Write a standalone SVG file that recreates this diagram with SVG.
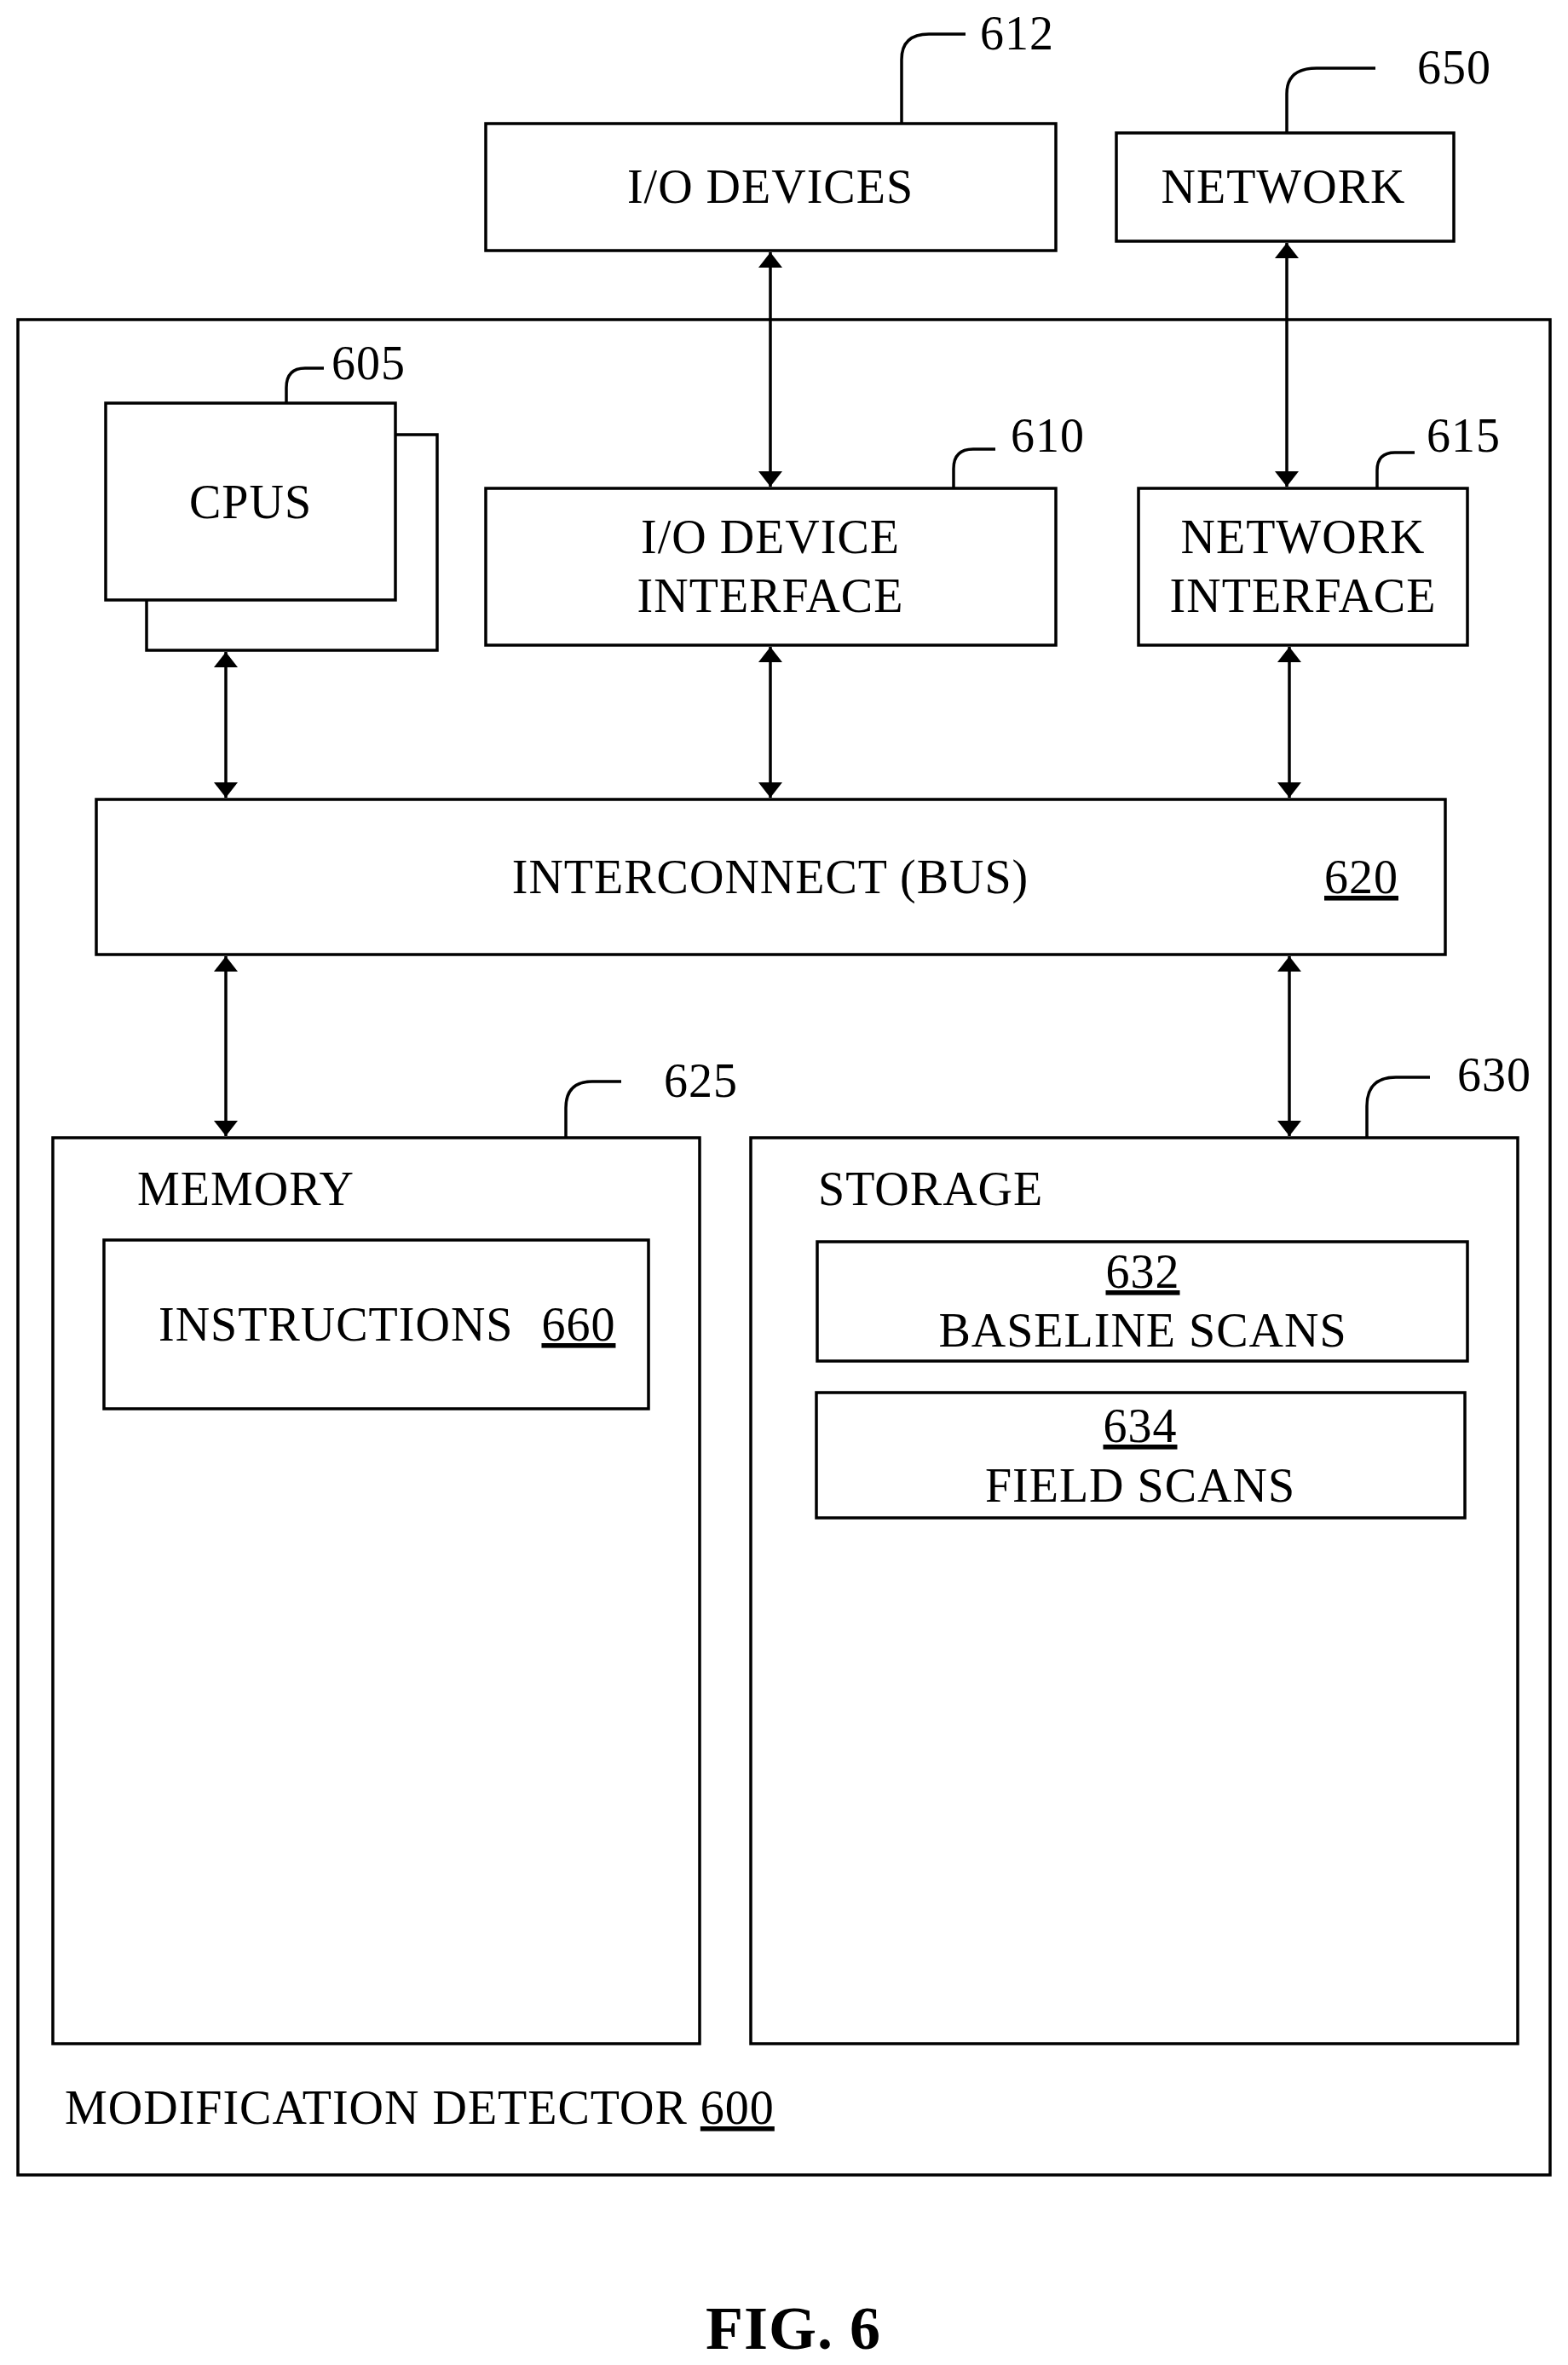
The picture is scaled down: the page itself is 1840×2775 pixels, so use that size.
<svg xmlns="http://www.w3.org/2000/svg" width="1840" height="2775" viewBox="0 0 1840 2775">
<defs>
<marker id="ah" viewBox="0 0 10 10" refX="10" refY="5" markerWidth="18" markerHeight="28" markerUnits="userSpaceOnUse" orient="auto-start-reverse" preserveAspectRatio="none"><path d="M0,0 L10,5 L0,10 z" fill="#000"/></marker>
<style>
rect{fill:#fff;stroke:#000;stroke-width:3.5}
text{font-family:"Liberation Serif",serif;font-size:56px;fill:#000;letter-spacing:1px}
.c{text-anchor:middle}
.u{text-decoration:underline}
.ld{fill:none;stroke:#000;stroke-width:3.5}
.ar{stroke:#000;stroke-width:3.5;marker-start:url(#ah);marker-end:url(#ah)}
</style>
</defs>
<rect width="1840" height="2775" style="fill:#fff;stroke:none"/>
<g id="outer"><rect x="21" y="375" width="1798" height="2177"/><text x="76" y="2492">MODIFICATION DETECTOR <tspan class="u">600</tspan></text></g>
<g id="io-devices"><rect x="570" y="145" width="669" height="149"/><text class="c" x="904" y="238">I/O DEVICES</text><text x="1150" y="58">612</text></g>
<g id="network"><rect x="1310" y="156" width="396" height="127"/><text class="c" x="1506" y="238">NETWORK</text><text x="1663" y="98">650</text></g>
<g id="cpus"><rect x="172" y="510" width="341" height="253"/><rect x="124" y="473" width="340" height="231"/><text class="c" x="294" y="608">CPUS</text><text x="389" y="445">605</text></g>
<g id="io-interface"><rect x="570" y="573" width="669" height="184"/><text class="c" x="904" y="649">I/O DEVICE</text><text class="c" x="904" y="718">INTERFACE</text><text x="1186" y="530">610</text></g>
<g id="net-interface"><rect x="1336" y="573" width="386" height="184"/><text class="c" x="1529" y="649">NETWORK</text><text class="c" x="1529" y="718">INTERFACE</text><text x="1674" y="530">615</text></g>
<g id="bus"><rect x="113" y="938" width="1583" height="182"/><text class="c" x="904" y="1048">INTERCONNECT (BUS)</text><text class="u" x="1554" y="1048">620</text></g>
<g id="memory"><rect x="62" y="1335" width="759" height="1063"/><text x="161" y="1414">MEMORY</text><text x="779" y="1287">625</text></g>
<g id="instructions"><rect x="122" y="1455" width="639" height="198"/><text x="186" y="1573">INSTRUCTIONS <tspan class="u" dx="18">660</tspan></text></g>
<g id="storage"><rect x="881" y="1335" width="900" height="1063"/><text x="960" y="1414">STORAGE</text><text x="1710" y="1280">630</text></g>
<g id="baseline"><rect x="959" y="1457" width="763" height="140"/><text class="c u" x="1341" y="1511">632</text><text class="c" x="1341" y="1580">BASELINE SCANS</text></g>
<g id="field"><rect x="958" y="1634" width="761" height="147"/><text class="c u" x="1338" y="1692">634</text><text class="c" x="1338" y="1762">FIELD SCANS</text></g>
<g id="connectors">
<line class="ar" x1="904" y1="296" x2="904" y2="571"/>
<line class="ar" x1="1510" y1="285" x2="1510" y2="571"/>
<line class="ar" x1="265" y1="765" x2="265" y2="936"/>
<line class="ar" x1="904" y1="759" x2="904" y2="936"/>
<line class="ar" x1="1513" y1="759" x2="1513" y2="936"/>
<line class="ar" x1="265" y1="1122" x2="265" y2="1333"/>
<line class="ar" x1="1513" y1="1122" x2="1513" y2="1333"/>
<path class="ld" d="M1058 145 V70 Q1058 40 1090 40 H1133"/>
<path class="ld" d="M1510 156 V110 Q1510 80 1545 80 H1614"/>
<path class="ld" d="M336 473 V455 Q336 432 358 432 H380"/>
<path class="ld" d="M1119 573 V550 Q1119 527 1142 527 H1168"/>
<path class="ld" d="M1616 573 V552 Q1616 531 1637 531 H1660"/>
<path class="ld" d="M664 1335 V1300 Q664 1269 695 1269 H729"/>
<path class="ld" d="M1604 1335 V1298 Q1604 1264 1638 1264 H1678"/>
</g>
<text class="c" x="931" y="2756" style="font-weight:bold;font-size:72px">FIG. 6</text>
</svg>
